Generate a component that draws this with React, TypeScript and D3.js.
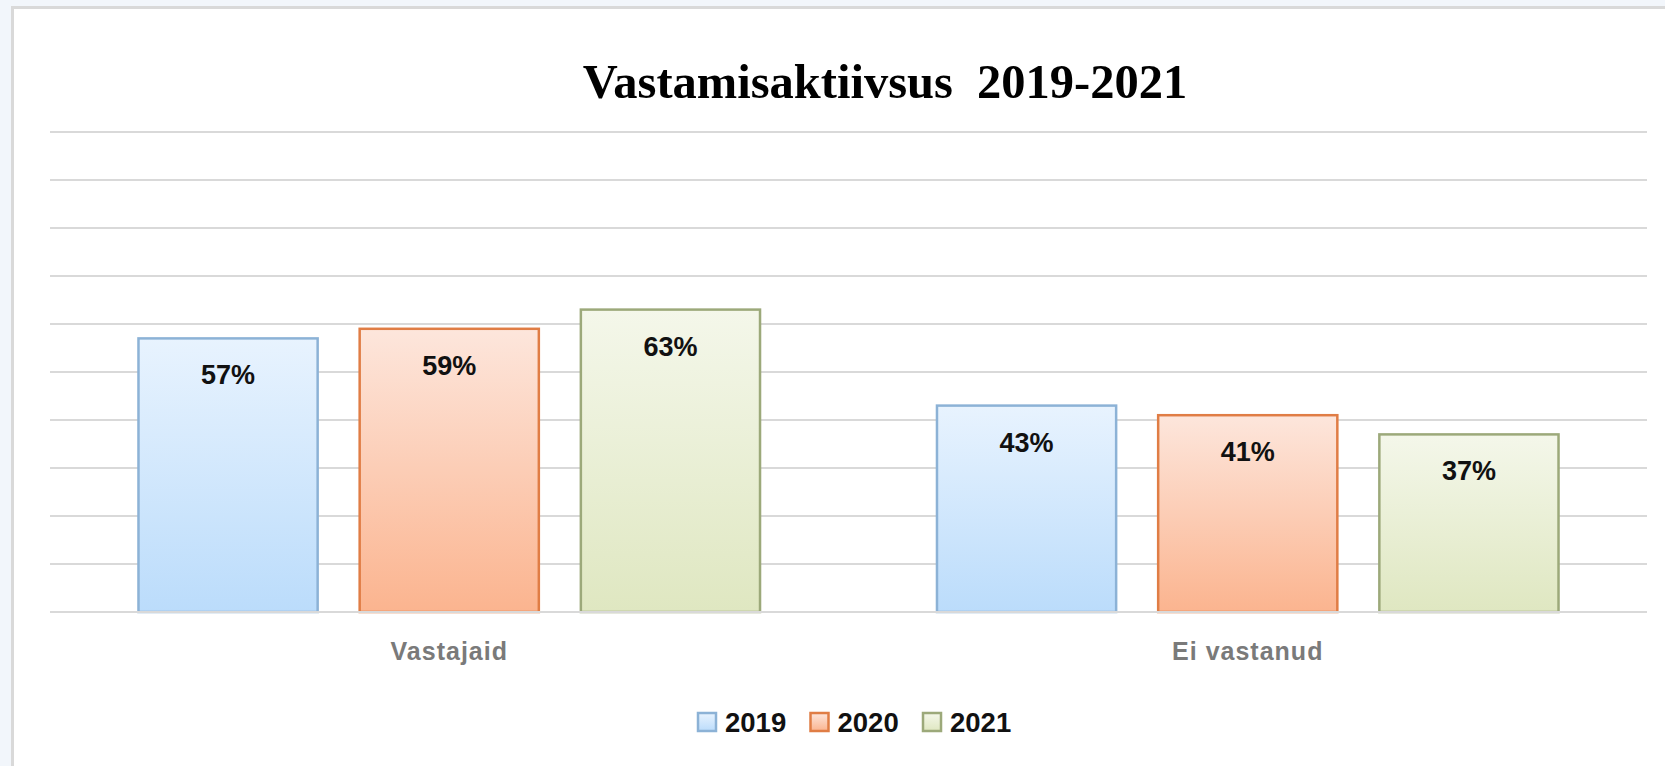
// grouped bar chart: response activity 2019-2021
import * as d3 from 'd3';
import React, { useEffect, useRef } from 'react';

const categories = ['Vastajaid', 'Ei vastanud'];
const years = ['2019', '2020', '2021'];
const values2019 = [57, 43];
const values2020 = [59, 41];
const values2021 = [63, 37];
const yTicks = [0, 10, 20, 30, 40, 50, 60, 70, 80, 90, 100];

const seriesValues = [values2019, values2020, values2021];

// colours for each year: gradient top, gradient bottom, outline
const topColors = ['#e8f3fe', '#fde6dc', '#f4f7ea'];
const bottomColors = ['#bbdcfb', '#fbb48f', '#dfe7c1'];
const strokeColors = ['#8cb2d6', '#e07d45', '#9ca97a'];

document.body.style.margin = '0';

const App = () => {
  const svgRef = useRef(null);

  useEffect(() => {
    const width = 1665;
    const height = 766;
    const margin = { top: 132, right: 18, bottom: 154, left: 50 };

    const svg = d3.select(svgRef.current);
    svg.selectAll('*').remove();

    //page background and chart box
    svg.append('rect').attr('width', width).attr('height', height).attr('fill', '#f2f6fb');
    svg
      .append('rect')
      .attr('x', 12.5)
      .attr('y', 7.5)
      .attr('width', width + 20)
      .attr('height', height + 20)
      .attr('fill', '#ffffff')
      .attr('stroke', '#d9d9d9')
      .attr('stroke-width', 3);

    //gradients for the bars
    const defs = svg.append('defs');
    years.forEach((yr, i) => {
      const g = defs
        .append('linearGradient')
        .attr('id', 'grad' + yr)
        .attr('x1', 0)
        .attr('y1', 0)
        .attr('x2', 0)
        .attr('y2', 1);
      g.append('stop').attr('offset', '0%').attr('stop-color', topColors[i]);
      g.append('stop').attr('offset', '100%').attr('stop-color', bottomColors[i]);
    });

    const x0 = d3
      .scaleBand()
      .domain(categories)
      .range([margin.left, width - margin.right])
      .padding(0);

    const x1 = d3
      .scaleBand()
      .domain(years)
      .range([0, x0.bandwidth()])
      .paddingInner(0.19)
      .paddingOuter(0.4);

    const y = d3
      .scaleLinear()
      .domain([0, 100])
      .range([height - margin.bottom, margin.top]);

    //horizontal gridlines
    svg
      .append('g')
      .selectAll('line')
      .data(yTicks)
      .enter()
      .append('line')
      .attr('x1', margin.left)
      .attr('x2', width - margin.right)
      .attr('y1', (d) => y(d))
      .attr('y2', (d) => y(d))
      .attr('stroke', '#d9d9d9')
      .attr('stroke-width', 2);

    //title
    svg
      .append('text')
      .attr('x', 885)
      .attr('y', 98)
      .attr('text-anchor', 'middle')
      .attr('font-family', '"Liberation Serif", "Times New Roman", serif')
      .attr('font-weight', 'bold')
      .attr('font-size', 48.5)
      .style('white-space', 'pre')
      .text('Vastamisaktiivsus  2019-2021');

    //bars and their labels
    const groups = svg
      .append('g')
      .selectAll('g')
      .data(categories)
      .enter()
      .append('g')
      .attr('transform', (d) => `translate(${x0(d)},0)`);

    years.forEach((yr, si) => {
      groups
        .append('rect')
        .attr('x', x1(yr))
        .attr('y', (d, ci) => y(seriesValues[si][ci]))
        .attr('width', x1.bandwidth())
        .attr('height', (d, ci) => y(0) - y(seriesValues[si][ci]))
        .attr('fill', `url(#grad${yr})`)
        .attr('stroke', strokeColors[si])
        .attr('stroke-width', 2.5);

      groups
        .append('text')
        .attr('x', x1(yr) + x1.bandwidth() / 2)
        .attr('y', (d, ci) => y(seriesValues[si][ci]) + 46)
        .attr('text-anchor', 'middle')
        .attr('font-family', '"Liberation Sans", Arial, sans-serif')
        .attr('font-weight', 'bold')
        .attr('font-size', 27)
        .attr('fill', '#111')
        .text((d, ci) => seriesValues[si][ci] + '%');
    });

    //baseline
    svg
      .append('line')
      .attr('x1', margin.left)
      .attr('x2', width - margin.right)
      .attr('y1', y(0))
      .attr('y2', y(0))
      .attr('stroke', '#d9d9d9')
      .attr('stroke-width', 2);

    //category labels
    svg
      .append('g')
      .selectAll('text')
      .data(categories)
      .enter()
      .append('text')
      .attr('x', (d) => x0(d) + x0.bandwidth() / 2)
      .attr('y', 660)
      .attr('text-anchor', 'middle')
      .attr('font-family', '"Liberation Sans", Arial, sans-serif')
      .attr('font-weight', 'bold')
      .attr('font-size', 25)
      .attr('letter-spacing', 1)
      .attr('fill', '#7a7a7a')
      .text((d) => d);

    //legend
    const legend = svg
      .append('g')
      .selectAll('g')
      .data(years)
      .enter()
      .append('g')
      .attr('transform', (d, i) => `translate(${697 + i * 112.5}, 712)`);

    legend
      .append('rect')
      .attr('x', 1)
      .attr('y', 1)
      .attr('width', 18)
      .attr('height', 18)
      .attr('fill', (d) => `url(#grad${d})`)
      .attr('stroke', (d, i) => strokeColors[i])
      .attr('stroke-width', 2.5);

    legend
      .append('text')
      .attr('x', 28)
      .attr('y', 20)
      .attr('font-family', '"Liberation Sans", Arial, sans-serif')
      .attr('font-weight', 'bold')
      .attr('font-size', 27.5)
      .attr('fill', '#111')
      .text((d) => d);
  }, []);

  return <svg ref={svgRef} width={1665} height={766} style={{ display: 'block' }}></svg>;
};

export default App;
